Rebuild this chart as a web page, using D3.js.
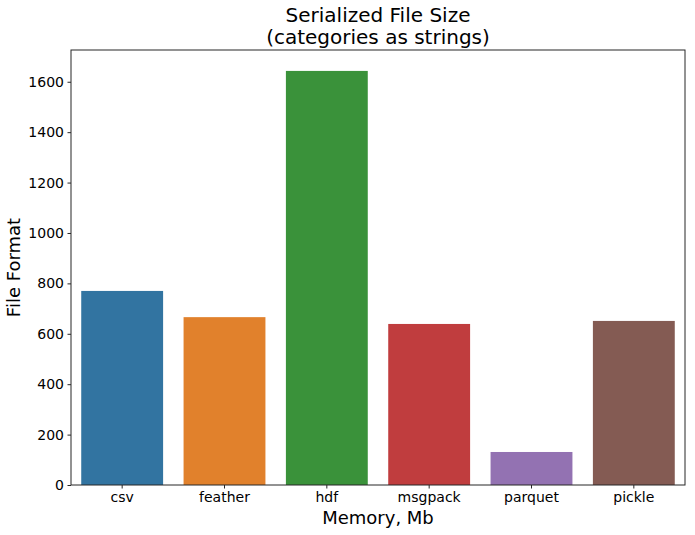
<!DOCTYPE html>
<html>
<head>
<meta charset="UTF-8">
<style>
  body { margin: 0; background: #fff; font-family: 'DejaVu Sans', sans-serif; }
  .axis text { font: 14px 'DejaVu Sans', sans-serif; fill: #000; }
  .axis path, .axis line { stroke: #262626; }
</style>
</head>
<body>
<div id="chart"></div>
<script src="https://d3js.org/d3.v7.min.js"></script>
<script>
const categories = ["csv", "feather", "hdf", "msgpack", "parquet", "pickle"];
const sizes = [770, 666, 1643, 639, 131, 651];
const colors = ["#3274a1", "#e1812c", "#3a923a", "#c03d3e", "#9372b2", "#845b53"];
const yTicks = [0, 200, 400, 600, 800, 1000, 1200, 1400, 1600];

const W = 695, H = 535;
const margin = {top: 50, right: 10, bottom: 50, left: 71};
const width = W - margin.left - margin.right,
      height = H - margin.top - margin.bottom;

const svg = d3.select("#chart").append("svg")
    .attr("width", W).attr("height", H);
const g = svg.append("g")
    .attr("transform", `translate(${margin.left},${margin.top})`);

const x = d3.scaleBand().domain(categories).range([0, width])
    .paddingInner(0.2).paddingOuter(0.1);
const y = d3.scaleLinear().domain([0, 1726]).range([height, 0]);

g.selectAll(".bar")
  .data(categories)
  .join("rect")
    .attr("class", "bar")
    .attr("x", d => x(d))
    .attr("width", x.bandwidth())
    .attr("y", (d, i) => y(sizes[i]))
    .attr("height", (d, i) => y(0) - y(sizes[i]))
    .attr("fill", (d, i) => colors[i]);

g.append("g").attr("class", "axis")
  .attr("transform", `translate(0,${height})`)
  .call(d3.axisBottom(x).tickSize(3.5).tickPadding(3.5).tickSizeOuter(0))
  .call(s => s.select(".domain").remove());

g.append("g").attr("class", "axis")
  .call(d3.axisLeft(y).tickValues(yTicks).tickFormat(d3.format("d"))
    .tickSize(3.5).tickPadding(3.5).tickSizeOuter(0))
  .call(s => s.select(".domain").remove());

// frame
g.append("rect")
  .attr("width", width).attr("height", height)
  .attr("fill", "none").attr("stroke", "#262626").attr("stroke-width", 1);

// titles
svg.append("text")
  .attr("x", margin.left + width / 2).attr("y", 22)
  .attr("text-anchor", "middle").style("font-size", "20px")
  .text("Serialized File Size");
svg.append("text")
  .attr("x", margin.left + width / 2).attr("y", 44)
  .attr("text-anchor", "middle").style("font-size", "20px")
  .text("(categories as strings)");

svg.append("text")
  .attr("x", margin.left + width / 2).attr("y", 524)
  .attr("text-anchor", "middle").style("font-size", "18px")
  .text("Memory, Mb");

svg.append("text")
  .attr("transform", `translate(20,${margin.top + height / 2}) rotate(-90)`)
  .attr("text-anchor", "middle").style("font-size", "18px")
  .text("File Format");
</script>
</body>
</html>
